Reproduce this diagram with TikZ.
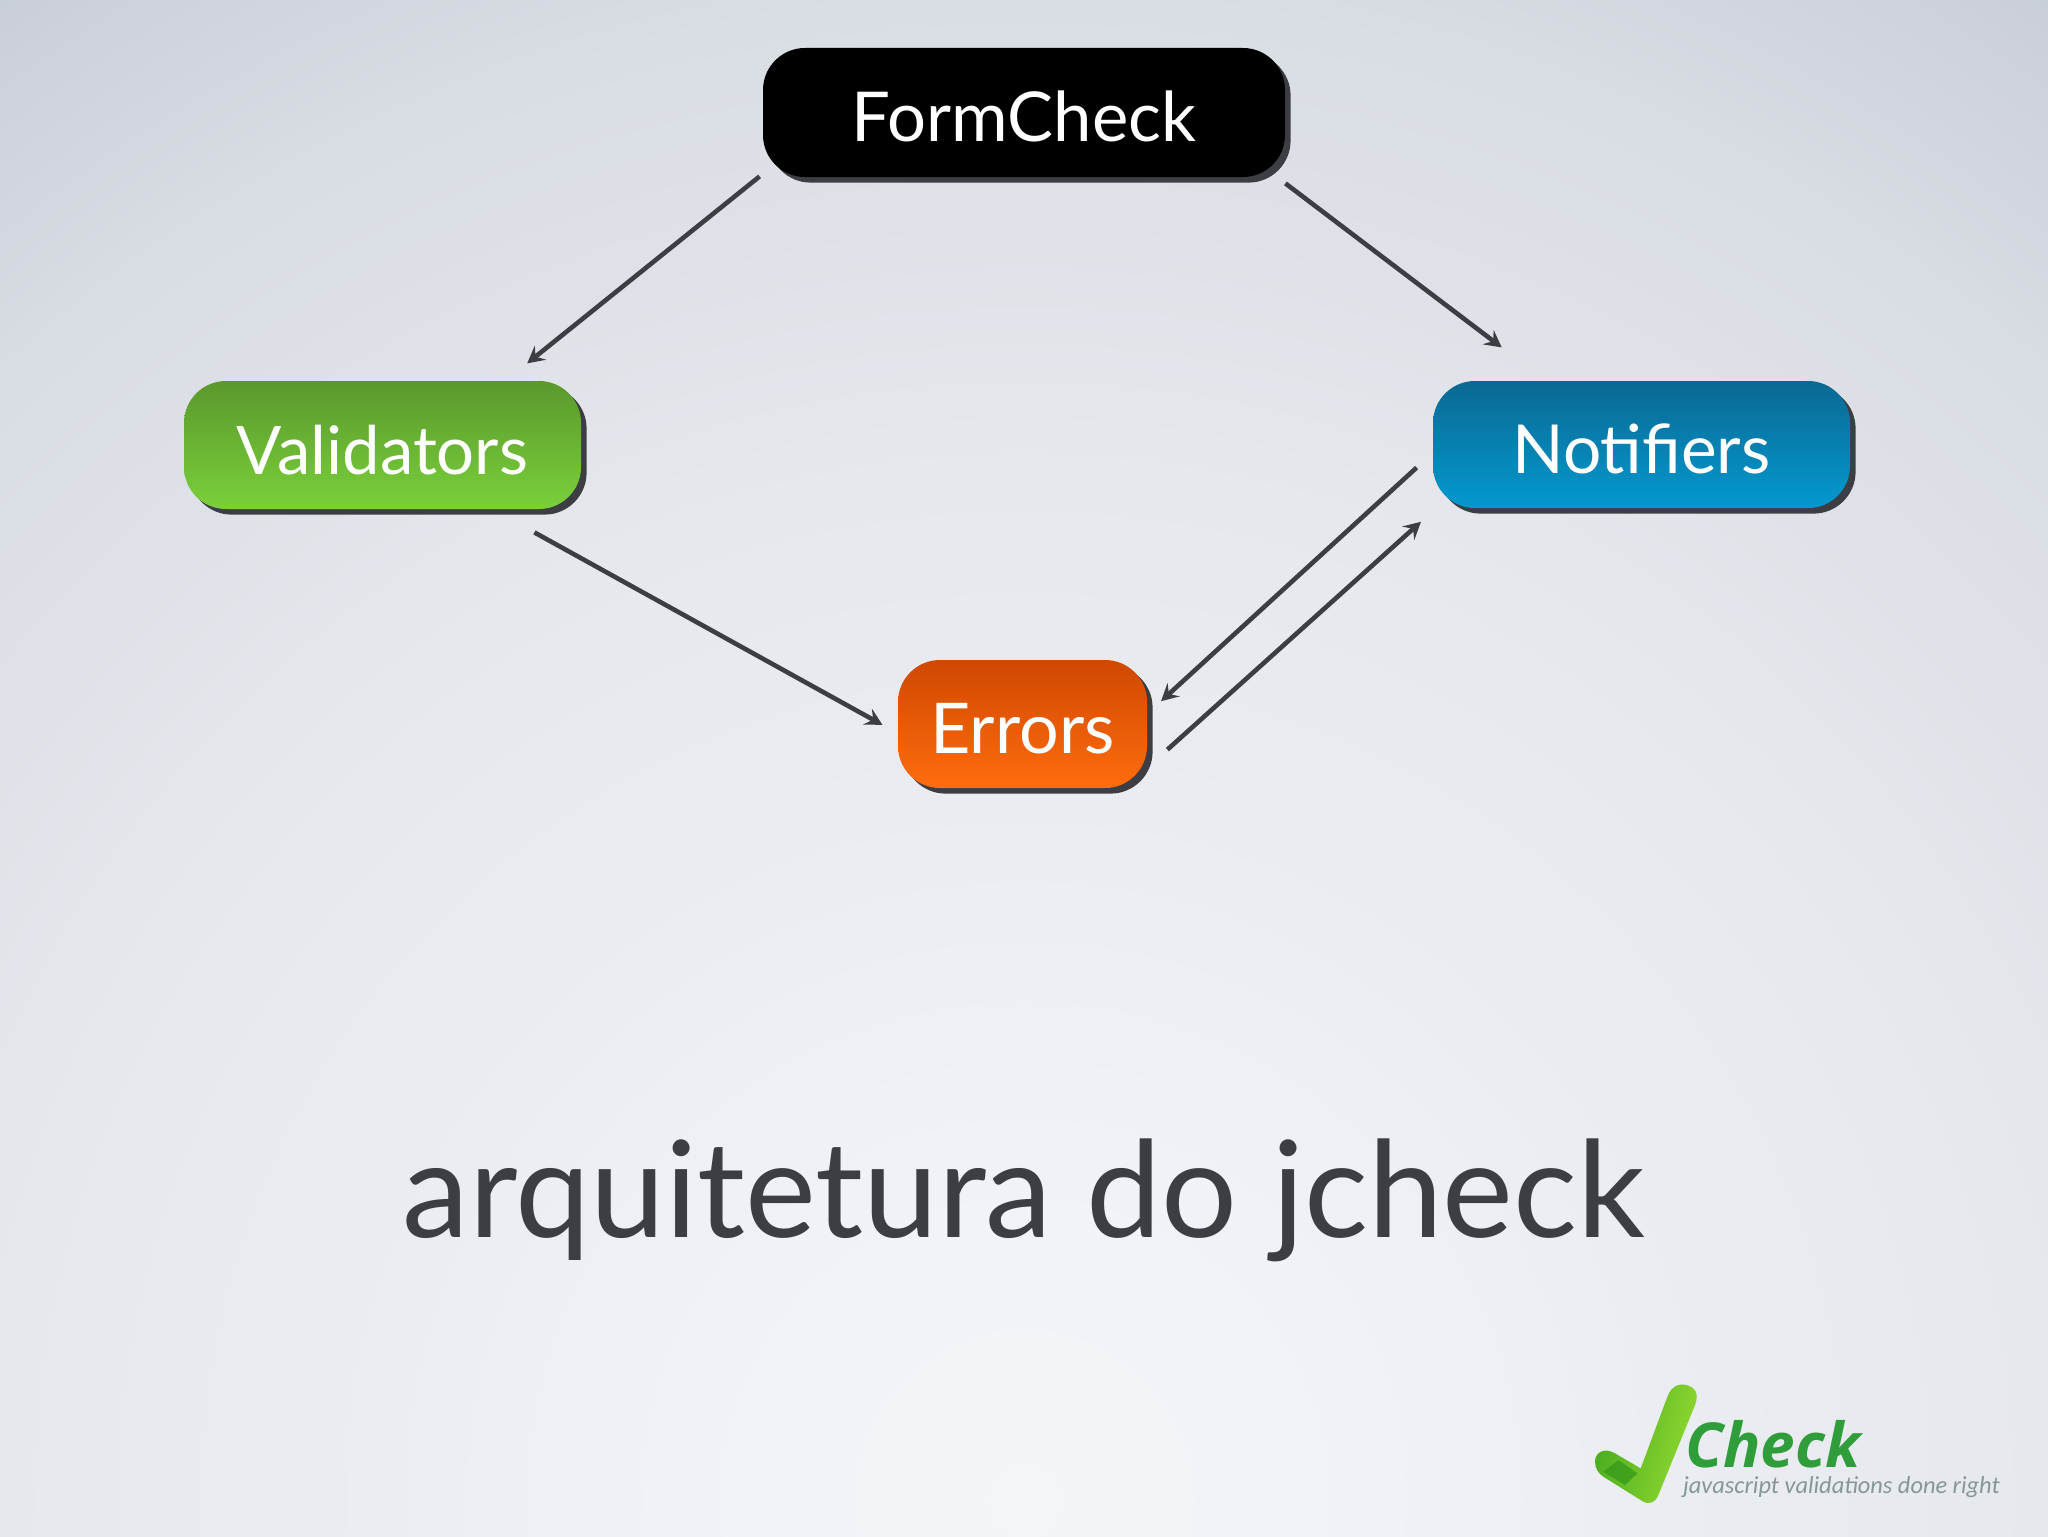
\documentclass[tikz,border=0pt]{standalone}
\usepackage{fontspec}
\setmainfont{Lato}
\newfontfamily\logofont{Carlito}
\newfontfamily\logonamefont{Open Sans}
\usetikzlibrary{arrows.meta,shadows,calc}
\pgfdeclareradialshading{slidebg}{\pgfpointorigin}{
  rgb(0bp)=(0.955,0.96,0.975);
  rgb(4bp)=(0.945,0.95,0.97);
  rgb(8.5bp)=(0.915,0.925,0.945);
  rgb(12.2bp)=(0.90,0.91,0.93);
  rgb(15bp)=(0.875,0.885,0.91);
  rgb(17.9bp)=(0.85,0.87,0.895);
  rgb(21.5bp)=(0.79,0.81,0.85);
  rgb(50bp)=(0.79,0.81,0.85)}
\definecolor{ink}{HTML}{3D3E44}
\definecolor{greenA}{HTML}{5A982D}
\definecolor{greenB}{HTML}{7AD03A}
\definecolor{blueA}{HTML}{0B6892}
\definecolor{blueB}{HTML}{0399CF}
\definecolor{orangeA}{HTML}{CF4802}
\definecolor{orangeB}{HTML}{FF6C0D}
\definecolor{tickA}{HTML}{46AA1E}
\definecolor{tickB}{HTML}{96DC32}
\definecolor{tickC}{HTML}{329619}
\definecolor{logoname}{HTML}{2F9E3A}
\definecolor{logotag}{HTML}{879696}
\tikzset{
  box/.style={rounded corners=21pt,inner sep=0pt,text=white,align=center,
    text height=29pt,text depth=0pt,
    general shadow={shadow xshift=2.8pt,shadow yshift=-2.8pt,fill=ink}},
  link/.style={draw=ink,line width=2.3pt,-{Stealth[length=8.5pt,width=9pt,inset=3.2pt,sep=1.8pt]}},
}
\begin{document}
\begin{tikzpicture}[x=0.5pt,y=-0.5pt]
\useasboundingbox (0,0) rectangle (2048,1536);
\clip (0,0) rectangle (2048,1536);
\shade[shading=slidebg] (1024,1500) circle (2100);

\node[box,minimum width=261pt,minimum height=64.5pt,fill=black,font=\fontsize{34.4}{40}\selectfont] (fc) at (1024,112.5) {FormCheck};
\node[box,minimum width=198.5pt,minimum height=64pt,top color=greenA,bottom color=greenB,font=\fontsize{33.5}{40}\selectfont] (val) at (382.5,445) {Validators};
\node[box,minimum width=208.5pt,minimum height=63.5pt,top color=blueA,bottom color=blueB,font=\fontsize{33.8}{40}\selectfont] (notif) at (1641.5,444.5) {Notifiers};
\node[box,minimum width=124.5pt,minimum height=64pt,top color=orangeA,bottom color=orangeB,font=\fontsize{35}{40}\selectfont] (err) at (1022.5,724) {Errors};

\draw[link] ([shift={(-3,-1)}]fc.south west) -- ([shift={(-57,-15)}]val.north east);
\draw[link] ([shift={(0,6)}]fc.south east) -- ([shift={(72,-31)}]notif.north west);
\draw[link] ([shift={(-47,23)}]val.south east) -- ([shift={(-12,67)}]err.north west);
\draw[link] ([shift={(-16,87)}]notif.north west) -- ([shift={(11,44)}]err.north east);
\draw[link] ([shift={(20,90)}]err.north east) -- ([shift={(-9,11)}]notif.south west);

\node[anchor=base,text=ink,font=\fontsize{67}{80}\selectfont] (title) at (1024,1237) {arquitetura do jcheck};

% logo
\begin{scope}[shift={(1550,1360)},x=0.1667pt,y=-0.1667pt]
\shade[left color=tickA,right color=tickB,shading angle=75]
  (135,305) .. controls (135,275) and (165,262) .. (195,280) -- (272,325)
  -- (352,110) .. controls (365,72) and (400,65) .. (425,82) .. controls (445,95) and (442,115) .. (435,135)
  -- (325,405) .. controls (315,430) and (295,435) .. (275,422) -- (160,350) .. controls (145,340) and (135,325) .. (135,305) -- cycle;
\fill[tickC,opacity=.7] (160,335) -- (205,300) -- (262,340) -- (225,375) -- cycle;
\node[anchor=base west,inner sep=0pt,text depth=0pt,text=logoname,font=\logonamefont\bfseries\itshape\fontsize{31}{33}\selectfont] (lname) at (405,322) {Check};
\node[anchor=base west,inner sep=0pt,text height=8pt,text=logotag,font=\logofont\itshape\fontsize{12.2}{14}\selectfont] (ltag) at (398,400) {javascript validations done right};
\end{scope}
\end{tikzpicture}
\end{document}
